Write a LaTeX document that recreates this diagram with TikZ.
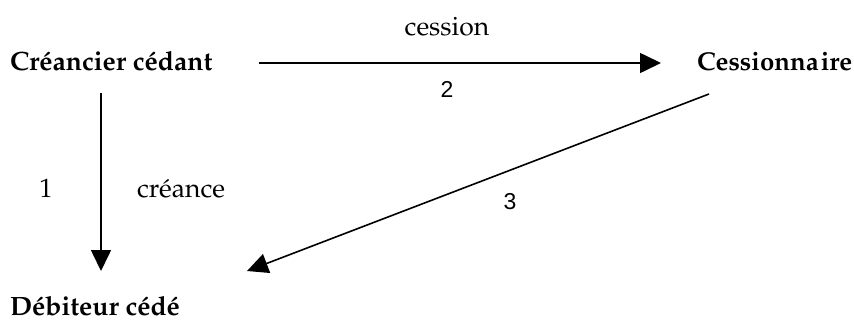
\documentclass[tikz,border=0pt]{standalone}
\usepackage[T1]{fontenc}
\usepackage{fontspec}
\newfontfamily\numfont{Liberation Sans}
\usetikzlibrary{arrows.meta}
\newcommand{\pal}{\fontencoding{T1}\fontfamily{ppl}\selectfont}
\tikzset{
  lbl/.style={inner sep=0pt, outer sep=0pt, font=\pal\fontsize{26.5}{31}\selectfont},
  bold/.style={lbl, font=\pal\bfseries\fontsize{26.5}{31}\selectfont},
  num/.style={inner sep=0pt, outer sep=0pt, font=\numfont\fontsize{23}{28}\selectfont},
  arr/.style={line width=1.6pt, -{Triangle[length=21pt,width=20pt]}}
}
\begin{document}
\begin{tikzpicture}[x=1pt,y=-1pt]
\useasboundingbox (0,0) rectangle (854,325);
\node[bold, anchor=base west] (cc) at (10,70) {Créancier cédant};
\node[bold, anchor=base west, font=\pal\bfseries\fontsize{25.8}{31}\selectfont] (cs) at (697,70) {Cessionna\hspace{2pt}ire};
\node[bold, anchor=base west] (dc) at (10,315) {Débiteur cédé};
\node[lbl, anchor=base] (ces) at (447,35) {cession};
\node[num, anchor=base] (n2) at (447,97) {2};
\node[lbl, anchor=base] (n1) at (46,197) {1};
\node[lbl, anchor=base west] (cr) at (137,197) {créance};
\node[num, anchor=base] (n3) at (510,209) {3};
\coordinate (a1) at (259,63);
\coordinate (b1) at (661,63);
\coordinate (a2) at (101,93);
\coordinate (b2) at (101,271);
\coordinate (a3) at (709,94);
\coordinate (b3) at (247,271);
\draw[arr] (a1) -- (b1);
\draw[arr] (a2) -- (b2);
\draw[arr] (a3) -- (b3);
\end{tikzpicture}
\end{document}
